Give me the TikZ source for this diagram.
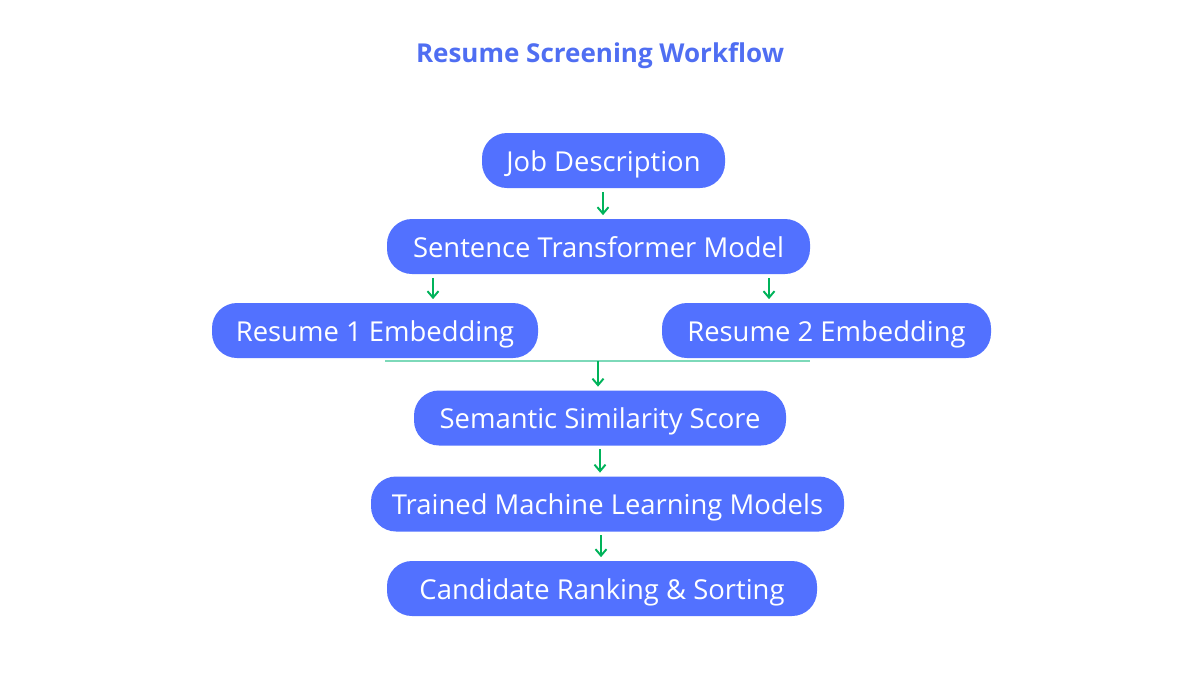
\documentclass[tikz,border=0pt]{standalone}
\usepackage{fontspec}
\setmainfont{Open Sans}
\usetikzlibrary{arrows.meta}

\definecolor{boxblue}{HTML}{5271FF}
\definecolor{titleblue}{HTML}{4F6EF2}
\definecolor{arrowgreen}{HTML}{00B35A}
\definecolor{mergeteal}{HTML}{7DD9B9}

\tikzset{
  stage/.style={fill=boxblue, text=white, rounded corners=0.5cm,
    minimum height=1.1cm, inner sep=0pt, text height=15pt, text depth=3pt,
    font=\fontsize{15.6}{18}\selectfont},
  flow/.style={draw=arrowgreen, line width=1.1pt,
    -{Straight Barb[length=1.3mm, width=2.2mm]}, shorten <=2pt, shorten >=2pt},
  merge/.style={draw=mergeteal, line width=1.1pt}
}

\begin{document}
\begin{tikzpicture}

  \useasboundingbox (0,0) rectangle (24,-13.5);

  % title
  \node[text=titleblue, font=\bfseries\fontsize{14.8}{17}\selectfont] (title) at (12,-1.12) {Resume Screening Workflow};

  % stages
  \node[stage, minimum width=4.86cm] (jd) at (12.07,-3.21) {Job Description};
  \node[stage, minimum width=8.46cm] (st) at (11.97,-4.93) {Sentence Transformer Model};
  \node[stage, minimum width=6.52cm] (r1) at (7.50,-6.61) {Resume 1 Embedding};
  \node[stage, minimum width=6.58cm] (r2) at (16.53,-6.61) {Resume 2 Embedding};
  \node[stage, minimum width=7.44cm] (sim) at (12.00,-8.36) {Semantic Similarity Score};
  \node[stage, minimum width=9.46cm] (ml) at (12.15,-10.08) {Trained Machine Learning Models\hspace{0.2cm}};
  \node[stage, minimum width=8.60cm] (rank) at (12.04,-11.77) {Candidate Ranking \& Sorting};

  % merge line under the two embeddings
  \coordinate (mergeL) at (7.70,-7.22);
  \coordinate (mergeR) at (16.20,-7.22);
  \coordinate (mergeM) at (11.96,-7.22);
  \draw[merge] (mergeL) -- (mergeR);

  % arrows
  \draw[flow] (jd.south -| 12.06,0) -- (st.north -| 12.06,0);
  \draw[flow] (st.south -| 8.66,0) -- (r1.north -| 8.66,0);
  \draw[flow] (st.south -| 15.38,0) -- (r2.north -| 15.38,0);
  \draw[flow, shorten <=0pt] (mergeM) -- (sim.north -| mergeM);
  \draw[flow] (sim.south -| 12.00,0) -- (ml.north -| 12.00,0);
  \draw[flow] (ml.south -| 12.02,0) -- (rank.north -| 12.02,0);

\end{tikzpicture}
\end{document}
